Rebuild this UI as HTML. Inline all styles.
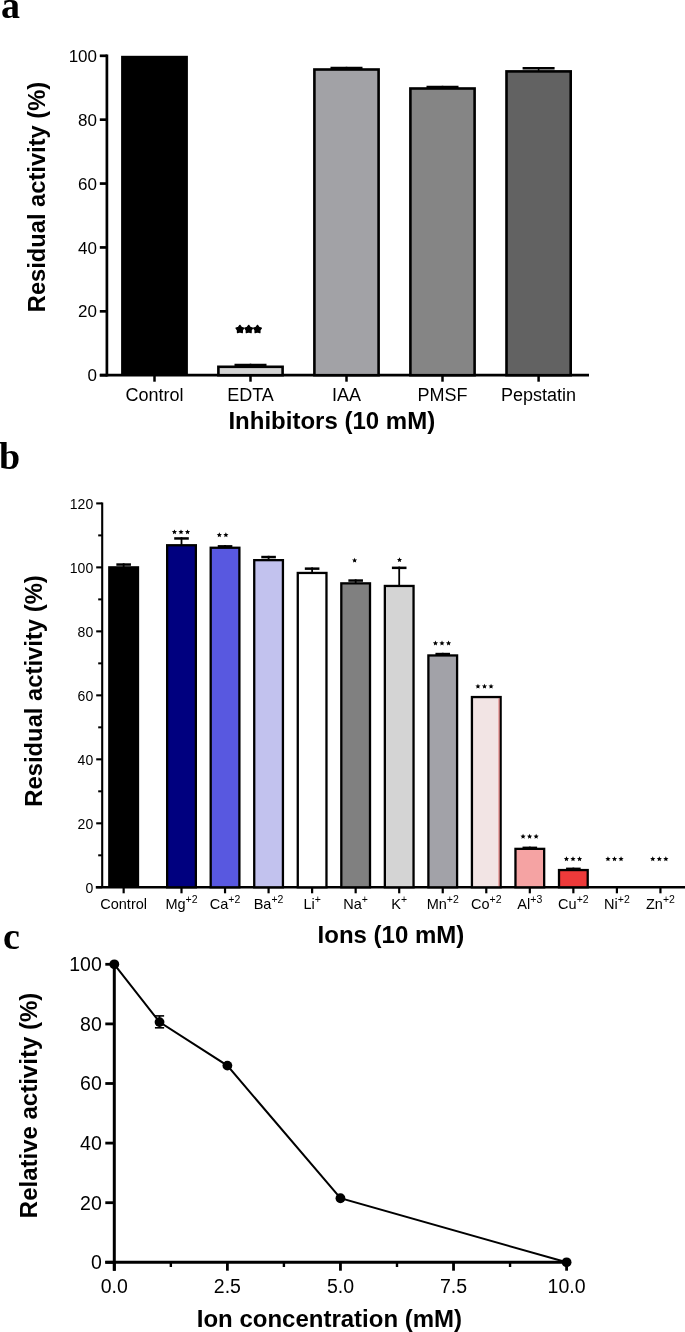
<!DOCTYPE html>
<html><head><meta charset="utf-8"><style>
html,body{margin:0;padding:0;background:#fff;}
body{width:685px;height:1332px;overflow:hidden;}
svg{display:block;will-change:transform;}
text{font-family:"Liberation Sans",sans-serif;}
</style></head><body>
<svg width="685" height="1332" viewBox="0 0 685 1332">
<text x="1.00" y="17.50" font-family="Liberation Serif" style="font-family:'Liberation Serif',serif" font-size="38" font-weight="bold" text-anchor="start">a</text>
<text x="-1.00" y="468.50" font-family="Liberation Serif" style="font-family:'Liberation Serif',serif" font-size="38" font-weight="bold" text-anchor="start">b</text>
<text x="3.00" y="948.50" font-family="Liberation Serif" style="font-family:'Liberation Serif',serif" font-size="38" font-weight="bold" text-anchor="start">c</text>
<line x1="106.90" y1="54.50" x2="106.90" y2="376.50" stroke="#000" stroke-width="2.7"/>
<line x1="99.80" y1="375.20" x2="589.00" y2="375.20" stroke="#000" stroke-width="2.7"/>
<line x1="99.80" y1="375.20" x2="106.90" y2="375.20" stroke="#000" stroke-width="2.7"/>
<text x="97.00" y="381.30" font-family="Liberation Sans" font-size="17" font-weight="normal" text-anchor="end">0</text>
<line x1="99.80" y1="311.32" x2="106.90" y2="311.32" stroke="#000" stroke-width="2.7"/>
<text x="97.00" y="317.42" font-family="Liberation Sans" font-size="17" font-weight="normal" text-anchor="end">20</text>
<line x1="99.80" y1="247.44" x2="106.90" y2="247.44" stroke="#000" stroke-width="2.7"/>
<text x="97.00" y="253.54" font-family="Liberation Sans" font-size="17" font-weight="normal" text-anchor="end">40</text>
<line x1="99.80" y1="183.56" x2="106.90" y2="183.56" stroke="#000" stroke-width="2.7"/>
<text x="97.00" y="189.66" font-family="Liberation Sans" font-size="17" font-weight="normal" text-anchor="end">60</text>
<line x1="99.80" y1="119.68" x2="106.90" y2="119.68" stroke="#000" stroke-width="2.7"/>
<text x="97.00" y="125.78" font-family="Liberation Sans" font-size="17" font-weight="normal" text-anchor="end">80</text>
<line x1="99.80" y1="55.80" x2="106.90" y2="55.80" stroke="#000" stroke-width="2.7"/>
<text x="97.00" y="61.90" font-family="Liberation Sans" font-size="17" font-weight="normal" text-anchor="end">100</text>
<line x1="154.50" y1="375.20" x2="154.50" y2="381.70" stroke="#000" stroke-width="2.5"/>
<text x="154.50" y="400.80" font-family="Liberation Sans" font-size="18" font-weight="normal" text-anchor="middle">Control</text>
<line x1="250.50" y1="375.20" x2="250.50" y2="381.70" stroke="#000" stroke-width="2.5"/>
<text x="250.50" y="400.80" font-family="Liberation Sans" font-size="18" font-weight="normal" text-anchor="middle">EDTA</text>
<line x1="346.50" y1="375.20" x2="346.50" y2="381.70" stroke="#000" stroke-width="2.5"/>
<text x="346.50" y="400.80" font-family="Liberation Sans" font-size="18" font-weight="normal" text-anchor="middle">IAA</text>
<line x1="442.50" y1="375.20" x2="442.50" y2="381.70" stroke="#000" stroke-width="2.5"/>
<text x="442.50" y="400.80" font-family="Liberation Sans" font-size="18" font-weight="normal" text-anchor="middle">PMSF</text>
<line x1="538.60" y1="375.20" x2="538.60" y2="381.70" stroke="#000" stroke-width="2.5"/>
<text x="538.60" y="400.80" font-family="Liberation Sans" font-size="18" font-weight="normal" text-anchor="middle">Pepstatin</text>
<rect x="121.10" y="55.80" width="66.80" height="319.40" fill="#000"/>
<line x1="250.50" y1="363.70" x2="250.50" y2="366.50" stroke="#000" stroke-width="1.6"/>
<line x1="234.50" y1="364.90" x2="266.50" y2="364.90" stroke="#000" stroke-width="2.4"/>
<rect x="218.40" y="366.80" width="64.20" height="8.40" fill="#d4d4d4" stroke="#000" stroke-width="2.6"/>
<line x1="346.50" y1="66.80" x2="346.50" y2="69.20" stroke="#000" stroke-width="1.6"/>
<line x1="330.50" y1="68.00" x2="362.50" y2="68.00" stroke="#000" stroke-width="2.4"/>
<rect x="314.40" y="69.50" width="64.20" height="305.70" fill="#a2a2a6" stroke="#000" stroke-width="2.6"/>
<line x1="442.50" y1="85.80" x2="442.50" y2="88.20" stroke="#000" stroke-width="1.6"/>
<line x1="426.50" y1="87.00" x2="458.50" y2="87.00" stroke="#000" stroke-width="2.4"/>
<rect x="410.40" y="88.50" width="64.20" height="286.70" fill="#858585" stroke="#000" stroke-width="2.6"/>
<line x1="538.60" y1="67.10" x2="538.60" y2="71.10" stroke="#000" stroke-width="1.6"/>
<line x1="522.60" y1="68.30" x2="554.60" y2="68.30" stroke="#000" stroke-width="2.4"/>
<rect x="506.50" y="71.40" width="64.20" height="303.80" fill="#626262" stroke="#000" stroke-width="2.6"/>
<polygon points="239.90,325.40 241.37,327.38 243.70,328.16 242.28,330.17 242.25,332.64 239.90,331.90 237.55,332.64 237.52,330.17 236.10,328.16 238.43,327.38" fill="#000" stroke="#000" stroke-width="1.4" stroke-linejoin="round"/>
<polygon points="248.70,325.40 250.17,327.38 252.50,328.16 251.08,330.17 251.05,332.64 248.70,331.90 246.35,332.64 246.32,330.17 244.90,328.16 247.23,327.38" fill="#000" stroke="#000" stroke-width="1.4" stroke-linejoin="round"/>
<polygon points="257.50,325.40 258.97,327.38 261.30,328.16 259.88,330.17 259.85,332.64 257.50,331.90 255.15,332.64 255.12,330.17 253.70,328.16 256.03,327.38" fill="#000" stroke="#000" stroke-width="1.4" stroke-linejoin="round"/>
<text x="44.00" y="196.40" font-family="Liberation Sans" font-size="23.7" font-weight="bold" text-anchor="middle" transform="rotate(-90 44.6 196.4)">Residual activity (%)</text>
<text x="331.80" y="428.90" font-family="Liberation Sans" font-size="24" font-weight="bold" text-anchor="middle">Inhibitors (10 mM)</text>
<line x1="102.20" y1="502.40" x2="102.20" y2="887.30" stroke="#000" stroke-width="2.1"/>
<line x1="95.80" y1="887.30" x2="685.00" y2="887.30" stroke="#000" stroke-width="2.5"/>
<line x1="96.20" y1="887.30" x2="102.20" y2="887.30" stroke="#000" stroke-width="2.1"/>
<text x="93.20" y="892.90" font-family="Liberation Sans" font-size="14" font-weight="normal" text-anchor="end">0</text>
<line x1="98.20" y1="855.31" x2="102.20" y2="855.31" stroke="#000" stroke-width="2.0"/>
<line x1="96.20" y1="823.32" x2="102.20" y2="823.32" stroke="#000" stroke-width="2.1"/>
<text x="93.20" y="828.92" font-family="Liberation Sans" font-size="14" font-weight="normal" text-anchor="end">20</text>
<line x1="98.20" y1="791.32" x2="102.20" y2="791.32" stroke="#000" stroke-width="2.0"/>
<line x1="96.20" y1="759.33" x2="102.20" y2="759.33" stroke="#000" stroke-width="2.1"/>
<text x="93.20" y="764.93" font-family="Liberation Sans" font-size="14" font-weight="normal" text-anchor="end">40</text>
<line x1="98.20" y1="727.34" x2="102.20" y2="727.34" stroke="#000" stroke-width="2.0"/>
<line x1="96.20" y1="695.35" x2="102.20" y2="695.35" stroke="#000" stroke-width="2.1"/>
<text x="93.20" y="700.95" font-family="Liberation Sans" font-size="14" font-weight="normal" text-anchor="end">60</text>
<line x1="98.20" y1="663.36" x2="102.20" y2="663.36" stroke="#000" stroke-width="2.0"/>
<line x1="96.20" y1="631.37" x2="102.20" y2="631.37" stroke="#000" stroke-width="2.1"/>
<text x="93.20" y="636.97" font-family="Liberation Sans" font-size="14" font-weight="normal" text-anchor="end">80</text>
<line x1="98.20" y1="599.38" x2="102.20" y2="599.38" stroke="#000" stroke-width="2.0"/>
<line x1="96.20" y1="567.38" x2="102.20" y2="567.38" stroke="#000" stroke-width="2.1"/>
<text x="93.20" y="572.98" font-family="Liberation Sans" font-size="14" font-weight="normal" text-anchor="end">100</text>
<line x1="98.20" y1="535.39" x2="102.20" y2="535.39" stroke="#000" stroke-width="2.0"/>
<line x1="96.20" y1="503.40" x2="102.20" y2="503.40" stroke="#000" stroke-width="2.1"/>
<text x="93.20" y="509.00" font-family="Liberation Sans" font-size="14" font-weight="normal" text-anchor="end">120</text>
<line x1="123.65" y1="887.30" x2="123.65" y2="893.30" stroke="#000" stroke-width="2.2"/>
<text x="123.65" y="908.80" font-family="Liberation Sans" font-size="14.5" font-weight="normal" text-anchor="middle">Control</text>
<line x1="181.50" y1="887.30" x2="181.50" y2="893.30" stroke="#000" stroke-width="2.2"/>
<text x="181.50" y="908.7" font-family="Liberation Sans" font-size="14.5" text-anchor="middle">Mg<tspan font-size="10.5" dy="-6.0">+2</tspan></text>
<line x1="225.04" y1="887.30" x2="225.04" y2="893.30" stroke="#000" stroke-width="2.2"/>
<text x="225.04" y="908.7" font-family="Liberation Sans" font-size="14.5" text-anchor="middle">Ca<tspan font-size="10.5" dy="-6.0">+2</tspan></text>
<line x1="268.58" y1="887.30" x2="268.58" y2="893.30" stroke="#000" stroke-width="2.2"/>
<text x="268.58" y="908.7" font-family="Liberation Sans" font-size="14.5" text-anchor="middle">Ba<tspan font-size="10.5" dy="-6.0">+2</tspan></text>
<line x1="312.12" y1="887.30" x2="312.12" y2="893.30" stroke="#000" stroke-width="2.2"/>
<text x="312.12" y="908.7" font-family="Liberation Sans" font-size="14.5" text-anchor="middle">Li<tspan font-size="10.5" dy="-6.0">+</tspan></text>
<line x1="355.66" y1="887.30" x2="355.66" y2="893.30" stroke="#000" stroke-width="2.2"/>
<text x="355.66" y="908.7" font-family="Liberation Sans" font-size="14.5" text-anchor="middle">Na<tspan font-size="10.5" dy="-6.0">+</tspan></text>
<line x1="399.20" y1="887.30" x2="399.20" y2="893.30" stroke="#000" stroke-width="2.2"/>
<text x="399.20" y="908.7" font-family="Liberation Sans" font-size="14.5" text-anchor="middle">K<tspan font-size="10.5" dy="-6.0">+</tspan></text>
<line x1="442.74" y1="887.30" x2="442.74" y2="893.30" stroke="#000" stroke-width="2.2"/>
<text x="442.74" y="908.7" font-family="Liberation Sans" font-size="14.5" text-anchor="middle">Mn<tspan font-size="10.5" dy="-6.0">+2</tspan></text>
<line x1="486.28" y1="887.30" x2="486.28" y2="893.30" stroke="#000" stroke-width="2.2"/>
<text x="486.28" y="908.7" font-family="Liberation Sans" font-size="14.5" text-anchor="middle">Co<tspan font-size="10.5" dy="-6.0">+2</tspan></text>
<line x1="529.82" y1="887.30" x2="529.82" y2="893.30" stroke="#000" stroke-width="2.2"/>
<text x="529.82" y="908.7" font-family="Liberation Sans" font-size="14.5" text-anchor="middle">Al<tspan font-size="10.5" dy="-6.0">+3</tspan></text>
<line x1="573.36" y1="887.30" x2="573.36" y2="893.30" stroke="#000" stroke-width="2.2"/>
<text x="573.36" y="908.7" font-family="Liberation Sans" font-size="14.5" text-anchor="middle">Cu<tspan font-size="10.5" dy="-6.0">+2</tspan></text>
<line x1="616.90" y1="887.30" x2="616.90" y2="893.30" stroke="#000" stroke-width="2.2"/>
<text x="616.90" y="908.7" font-family="Liberation Sans" font-size="14.5" text-anchor="middle">Ni<tspan font-size="10.5" dy="-6.0">+2</tspan></text>
<line x1="660.44" y1="887.30" x2="660.44" y2="893.30" stroke="#000" stroke-width="2.2"/>
<text x="660.44" y="908.7" font-family="Liberation Sans" font-size="14.5" text-anchor="middle">Zn<tspan font-size="10.5" dy="-6.0">+2</tspan></text>
<line x1="123.65" y1="563.30" x2="123.65" y2="567.20" stroke="#000" stroke-width="1.8"/>
<line x1="116.35" y1="564.55" x2="130.95" y2="564.55" stroke="#000" stroke-width="2.5"/>
<rect x="108.15" y="566.20" width="31.00" height="321.10" fill="#000"/>
<line x1="181.50" y1="537.20" x2="181.50" y2="545.10" stroke="#000" stroke-width="1.8"/>
<line x1="174.20" y1="538.45" x2="188.80" y2="538.45" stroke="#000" stroke-width="2.5"/>
<rect x="167.15" y="545.25" width="28.70" height="342.05" fill="#00007f" stroke="#000" stroke-width="2.3"/>
<line x1="225.04" y1="545.10" x2="225.04" y2="547.60" stroke="#000" stroke-width="1.8"/>
<line x1="217.74" y1="546.35" x2="232.34" y2="546.35" stroke="#000" stroke-width="2.5"/>
<rect x="210.69" y="547.75" width="28.70" height="339.55" fill="#5858e0" stroke="#000" stroke-width="2.3"/>
<line x1="268.58" y1="555.80" x2="268.58" y2="560.00" stroke="#000" stroke-width="1.8"/>
<line x1="261.28" y1="557.05" x2="275.88" y2="557.05" stroke="#000" stroke-width="2.5"/>
<rect x="254.23" y="560.15" width="28.70" height="327.15" fill="#c2c2ee" stroke="#000" stroke-width="2.3"/>
<line x1="312.12" y1="567.40" x2="312.12" y2="572.80" stroke="#000" stroke-width="1.8"/>
<line x1="304.82" y1="568.65" x2="319.42" y2="568.65" stroke="#000" stroke-width="2.5"/>
<rect x="297.77" y="572.95" width="28.70" height="314.35" fill="#fff" stroke="#000" stroke-width="2.3"/>
<line x1="355.66" y1="579.30" x2="355.66" y2="583.20" stroke="#000" stroke-width="1.8"/>
<line x1="348.36" y1="580.55" x2="362.96" y2="580.55" stroke="#000" stroke-width="2.5"/>
<rect x="341.31" y="583.35" width="28.70" height="303.95" fill="#808080" stroke="#000" stroke-width="2.3"/>
<line x1="399.20" y1="566.60" x2="399.20" y2="585.80" stroke="#000" stroke-width="1.8"/>
<line x1="391.90" y1="567.85" x2="406.50" y2="567.85" stroke="#000" stroke-width="2.5"/>
<rect x="384.85" y="585.95" width="28.70" height="301.35" fill="#d4d4d4" stroke="#000" stroke-width="2.3"/>
<line x1="442.74" y1="652.80" x2="442.74" y2="655.30" stroke="#000" stroke-width="1.8"/>
<line x1="435.44" y1="654.05" x2="450.04" y2="654.05" stroke="#000" stroke-width="2.5"/>
<rect x="428.39" y="655.45" width="28.70" height="231.85" fill="#a2a2a8" stroke="#000" stroke-width="2.3"/>
<rect x="471.93" y="697.05" width="28.70" height="190.25" fill="#f2e4e4" stroke="#000" stroke-width="2.3"/>
<line x1="529.82" y1="846.60" x2="529.82" y2="848.70" stroke="#000" stroke-width="1.8"/>
<line x1="522.52" y1="847.85" x2="537.12" y2="847.85" stroke="#000" stroke-width="2.5"/>
<rect x="515.47" y="848.85" width="28.70" height="38.45" fill="#f5a3a3" stroke="#000" stroke-width="2.3"/>
<line x1="573.36" y1="867.60" x2="573.36" y2="869.90" stroke="#000" stroke-width="1.8"/>
<line x1="566.06" y1="868.85" x2="580.66" y2="868.85" stroke="#000" stroke-width="2.5"/>
<rect x="559.01" y="870.05" width="28.70" height="17.25" fill="#ee3a3a" stroke="#000" stroke-width="2.3"/>
<rect x="498.58" y="698.20" width="0.90" height="187.90" fill="#e06060"/>
<polygon points="174.45,529.40 175.18,531.09 177.02,531.27 175.64,532.49 176.04,534.28 174.45,533.35 172.86,534.28 173.26,532.49 171.88,531.27 173.72,531.09" fill="#000"/>
<polygon points="181.00,529.40 181.73,531.09 183.57,531.27 182.19,532.49 182.59,534.28 181.00,533.35 179.41,534.28 179.81,532.49 178.43,531.27 180.27,531.09" fill="#000"/>
<polygon points="187.55,529.40 188.28,531.09 190.12,531.27 188.74,532.49 189.14,534.28 187.55,533.35 185.96,534.28 186.36,532.49 184.98,531.27 186.82,531.09" fill="#000"/>
<polygon points="219.32,532.30 220.06,533.99 221.89,534.17 220.51,535.39 220.91,537.18 219.32,536.25 217.74,537.18 218.14,535.39 216.76,534.17 218.59,533.99" fill="#000"/>
<polygon points="225.88,532.30 226.61,533.99 228.44,534.17 227.06,535.39 227.46,537.18 225.88,536.25 224.29,537.18 224.69,535.39 223.31,534.17 225.14,533.99" fill="#000"/>
<polygon points="354.60,557.70 355.33,559.39 357.17,559.57 355.79,560.79 356.19,562.58 354.60,561.65 353.01,562.58 353.41,560.79 352.03,559.57 353.87,559.39" fill="#000"/>
<polygon points="399.50,557.20 400.23,558.89 402.07,559.07 400.69,560.29 401.09,562.08 399.50,561.15 397.91,562.08 398.31,560.29 396.93,559.07 398.77,558.89" fill="#000"/>
<polygon points="435.45,640.60 436.18,642.29 438.02,642.47 436.64,643.69 437.04,645.48 435.45,644.55 433.86,645.48 434.26,643.69 432.88,642.47 434.72,642.29" fill="#000"/>
<polygon points="442.00,640.60 442.73,642.29 444.57,642.47 443.19,643.69 443.59,645.48 442.00,644.55 440.41,645.48 440.81,643.69 439.43,642.47 441.27,642.29" fill="#000"/>
<polygon points="448.55,640.60 449.28,642.29 451.12,642.47 449.74,643.69 450.14,645.48 448.55,644.55 446.96,645.48 447.36,643.69 445.98,642.47 447.82,642.29" fill="#000"/>
<polygon points="477.95,683.70 478.68,685.39 480.52,685.57 479.14,686.79 479.54,688.58 477.95,687.65 476.36,688.58 476.76,686.79 475.38,685.57 477.22,685.39" fill="#000"/>
<polygon points="484.50,683.70 485.23,685.39 487.07,685.57 485.69,686.79 486.09,688.58 484.50,687.65 482.91,688.58 483.31,686.79 481.93,685.57 483.77,685.39" fill="#000"/>
<polygon points="491.05,683.70 491.78,685.39 493.62,685.57 492.24,686.79 492.64,688.58 491.05,687.65 489.46,688.58 489.86,686.79 488.48,685.57 490.32,685.39" fill="#000"/>
<polygon points="523.05,833.80 523.78,835.49 525.62,835.67 524.24,836.89 524.64,838.68 523.05,837.75 521.46,838.68 521.86,836.89 520.48,835.67 522.32,835.49" fill="#000"/>
<polygon points="529.60,833.80 530.33,835.49 532.17,835.67 530.79,836.89 531.19,838.68 529.60,837.75 528.01,838.68 528.41,836.89 527.03,835.67 528.87,835.49" fill="#000"/>
<polygon points="536.15,833.80 536.88,835.49 538.72,835.67 537.34,836.89 537.74,838.68 536.15,837.75 534.56,838.68 534.96,836.89 533.58,835.67 535.42,835.49" fill="#000"/>
<polygon points="566.45,856.30 567.18,857.99 569.02,858.17 567.64,859.39 568.04,861.18 566.45,860.25 564.86,861.18 565.26,859.39 563.88,858.17 565.72,857.99" fill="#000"/>
<polygon points="573.00,856.30 573.73,857.99 575.57,858.17 574.19,859.39 574.59,861.18 573.00,860.25 571.41,861.18 571.81,859.39 570.43,858.17 572.27,857.99" fill="#000"/>
<polygon points="579.55,856.30 580.28,857.99 582.12,858.17 580.74,859.39 581.14,861.18 579.55,860.25 577.96,861.18 578.36,859.39 576.98,858.17 578.82,857.99" fill="#000"/>
<polygon points="607.95,856.30 608.68,857.99 610.52,858.17 609.14,859.39 609.54,861.18 607.95,860.25 606.36,861.18 606.76,859.39 605.38,858.17 607.22,857.99" fill="#000"/>
<polygon points="614.50,856.30 615.23,857.99 617.07,858.17 615.69,859.39 616.09,861.18 614.50,860.25 612.91,861.18 613.31,859.39 611.93,858.17 613.77,857.99" fill="#000"/>
<polygon points="621.05,856.30 621.78,857.99 623.62,858.17 622.24,859.39 622.64,861.18 621.05,860.25 619.46,861.18 619.86,859.39 618.48,858.17 620.32,857.99" fill="#000"/>
<polygon points="652.75,856.30 653.48,857.99 655.32,858.17 653.94,859.39 654.34,861.18 652.75,860.25 651.16,861.18 651.56,859.39 650.18,858.17 652.02,857.99" fill="#000"/>
<polygon points="659.30,856.30 660.03,857.99 661.87,858.17 660.49,859.39 660.89,861.18 659.30,860.25 657.71,861.18 658.11,859.39 656.73,858.17 658.57,857.99" fill="#000"/>
<polygon points="665.85,856.30 666.58,857.99 668.42,858.17 667.04,859.39 667.44,861.18 665.85,860.25 664.26,861.18 664.66,859.39 663.28,858.17 665.12,857.99" fill="#000"/>
<text x="42.10" y="691.00" font-family="Liberation Sans" font-size="23.8" font-weight="bold" text-anchor="middle" transform="rotate(-90 42.1 691.0)">Residual activity (%)</text>
<text x="390.90" y="943.40" font-family="Liberation Sans" font-size="24" font-weight="bold" text-anchor="middle">Ions (10 mM)</text>
<line x1="114.30" y1="963.30" x2="114.30" y2="1270.70" stroke="#000" stroke-width="3.0"/>
<line x1="105.30" y1="1262.30" x2="566.60" y2="1262.30" stroke="#000" stroke-width="3.0"/>
<line x1="105.30" y1="1262.30" x2="114.30" y2="1262.30" stroke="#000" stroke-width="2.8"/>
<text x="101.80" y="1269.20" font-family="Liberation Sans" font-size="19.5" font-weight="normal" text-anchor="end">0</text>
<line x1="105.30" y1="1202.70" x2="114.30" y2="1202.70" stroke="#000" stroke-width="2.8"/>
<text x="101.80" y="1209.60" font-family="Liberation Sans" font-size="19.5" font-weight="normal" text-anchor="end">20</text>
<line x1="105.30" y1="1143.10" x2="114.30" y2="1143.10" stroke="#000" stroke-width="2.8"/>
<text x="101.80" y="1150.00" font-family="Liberation Sans" font-size="19.5" font-weight="normal" text-anchor="end">40</text>
<line x1="105.30" y1="1083.50" x2="114.30" y2="1083.50" stroke="#000" stroke-width="2.8"/>
<text x="101.80" y="1090.40" font-family="Liberation Sans" font-size="19.5" font-weight="normal" text-anchor="end">60</text>
<line x1="105.30" y1="1023.90" x2="114.30" y2="1023.90" stroke="#000" stroke-width="2.8"/>
<text x="101.80" y="1030.80" font-family="Liberation Sans" font-size="19.5" font-weight="normal" text-anchor="end">80</text>
<line x1="105.30" y1="964.30" x2="114.30" y2="964.30" stroke="#000" stroke-width="2.8"/>
<text x="101.80" y="971.20" font-family="Liberation Sans" font-size="19.5" font-weight="normal" text-anchor="end">100</text>
<line x1="114.30" y1="1262.30" x2="114.30" y2="1270.70" stroke="#000" stroke-width="2.8"/>
<text x="114.30" y="1293.40" font-family="Liberation Sans" font-size="19.5" font-weight="normal" text-anchor="middle">0.0</text>
<line x1="170.84" y1="1262.30" x2="170.84" y2="1267.00" stroke="#000" stroke-width="2.4"/>
<line x1="227.38" y1="1262.30" x2="227.38" y2="1270.70" stroke="#000" stroke-width="2.8"/>
<text x="227.38" y="1293.40" font-family="Liberation Sans" font-size="19.5" font-weight="normal" text-anchor="middle">2.5</text>
<line x1="283.91" y1="1262.30" x2="283.91" y2="1267.00" stroke="#000" stroke-width="2.4"/>
<line x1="340.45" y1="1262.30" x2="340.45" y2="1270.70" stroke="#000" stroke-width="2.8"/>
<text x="340.45" y="1293.40" font-family="Liberation Sans" font-size="19.5" font-weight="normal" text-anchor="middle">5.0</text>
<line x1="396.99" y1="1262.30" x2="396.99" y2="1267.00" stroke="#000" stroke-width="2.4"/>
<line x1="453.53" y1="1262.30" x2="453.53" y2="1270.70" stroke="#000" stroke-width="2.8"/>
<text x="453.53" y="1293.40" font-family="Liberation Sans" font-size="19.5" font-weight="normal" text-anchor="middle">7.5</text>
<line x1="510.06" y1="1262.30" x2="510.06" y2="1267.00" stroke="#000" stroke-width="2.4"/>
<line x1="566.60" y1="1262.30" x2="566.60" y2="1270.70" stroke="#000" stroke-width="2.8"/>
<text x="566.60" y="1293.40" font-family="Liberation Sans" font-size="19.5" font-weight="normal" text-anchor="middle">10.0</text>
<polyline points="114.30,964.30 159.53,1022.11 227.38,1065.62 340.45,1198.23 566.60,1262.30" fill="none" stroke="#000" stroke-width="2"/>
<line x1="159.53" y1="1015.90" x2="159.53" y2="1027.80" stroke="#000" stroke-width="1.8"/>
<line x1="154.93" y1="1015.90" x2="164.13" y2="1015.90" stroke="#000" stroke-width="1.6"/>
<line x1="154.93" y1="1027.80" x2="164.13" y2="1027.80" stroke="#000" stroke-width="1.6"/>
<circle cx="114.30" cy="964.30" r="4.9" fill="#000"/>
<circle cx="159.53" cy="1022.11" r="4.9" fill="#000"/>
<circle cx="227.38" cy="1065.62" r="4.9" fill="#000"/>
<circle cx="340.45" cy="1198.23" r="4.9" fill="#000"/>
<circle cx="566.60" cy="1262.30" r="4.9" fill="#000"/>
<text x="37.30" y="1105.50" font-family="Liberation Sans" font-size="24" font-weight="bold" text-anchor="middle" transform="rotate(-90 37.3 1105.5)">Relative activity (%)</text>
<text x="329.40" y="1327.20" font-family="Liberation Sans" font-size="24" font-weight="bold" text-anchor="middle">Ion concentration (mM)</text>
</svg></body></html>
